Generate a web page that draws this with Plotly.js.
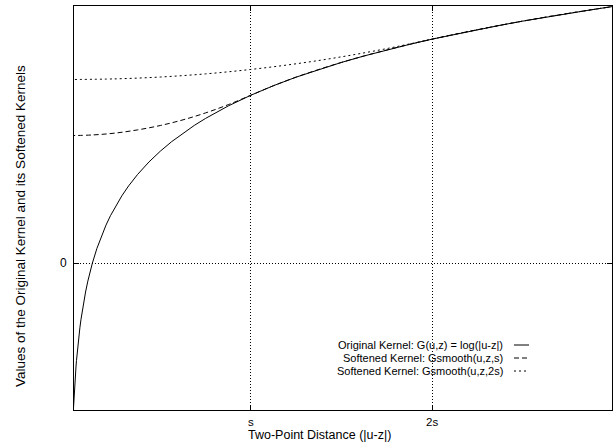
<!DOCTYPE html>
<html>
<head>
<meta charset="utf-8">
<script src="https://cdn.plot.ly/plotly-3.0.1.min.js"></script>
<style>html,body{margin:0;padding:0;background:#fff;}#chart{width:614px;height:443px;}</style>
</head>
<body>
<div id="chart"></div>
<script>
// distance values (s = 8 units)
const xOrig = [0.162,0.17,0.18,0.19,0.2,0.22,0.25,0.28,0.3,0.35,0.4,0.45,0.5,0.6,0.7,0.8,0.9,1,1.2,1.4,1.6,1.8,2,2.3,2.6,3,3.5,4,4.5,5,5.5,6,7,8,9,10,11,12,13,14,15,16,17,18,19,20,21,22,23,24];
const yOrig = [-1.820,-1.772,-1.715,-1.661,-1.609,-1.514,-1.386,-1.273,-1.204,-1.050,-0.916,-0.799,-0.693,-0.511,-0.357,-0.223,-0.105,0,0.182,0.336,0.470,0.588,0.693,0.833,0.956,1.099,1.253,1.386,1.504,1.609,1.705,1.792,1.946,2.079,2.197,2.303,2.398,2.485,2.565,2.639,2.708,2.773,2.833,2.890,2.944,2.996,3.045,3.091,3.135,3.178];

const xSoftS = [0,1,2,3,4,5,6,7,8,9,10,11,12,13,14,15,16,17,18,19,20,21,22,23,24];
const ySoftS = [1.579,1.587,1.610,1.650,1.704,1.774,1.860,1.962,2.079,2.197,2.303,2.398,2.485,2.565,2.639,2.708,2.773,2.833,2.890,2.944,2.996,3.045,3.091,3.135,3.178];

const xSoft2S = [0,2,4,6,8,10,12,14,16,17,18,19,20,21,22,23,24];
const ySoft2S = [2.273,2.281,2.304,2.343,2.398,2.468,2.554,2.656,2.773,2.833,2.890,2.944,2.996,3.045,3.091,3.135,3.178];

const xTickVals = [8,16];
const xTickText = ['s','2s'];
const yTickVals = [0];
const yTickText = ['0'];

const seriesNames = [
  'Original Kernel: G(u,z) = log(|u-z|)',
  'Softened Kernel: Gsmooth(u,z,s)',
  'Softened Kernel: Gsmooth(u,z,2s)'
];
const dashes = ['solid','5px,3px','2px,3px'];

const W = 614, H = 443;
const M = {l:74, r:2, t:6, b:33};
const PW = W - M.l - M.r, PH = H - M.t - M.b;
const px = x => (x - M.l) / PW;
const py = y => (H - M.b - y) / PH;

const FONT = 'Liberation Sans, Arial, Helvetica, sans-serif';

const traces = [
  {x:xOrig, y:yOrig, mode:'lines', name:seriesNames[0], line:{color:'#000', width:1, dash:dashes[0]}},
  {x:xSoftS, y:ySoftS, mode:'lines', name:seriesNames[1], line:{color:'#000', width:1, dash:dashes[1], shape:'spline'}},
  {x:xSoft2S, y:ySoft2S, mode:'lines', name:seriesNames[2], line:{color:'#000', width:1, dash:dashes[2], shape:'spline'}}
];

const legendY = [345, 358, 371];
const annotations = seriesNames.map((t,i) => ({
  xref:'paper', yref:'paper', x:px(505), y:py(legendY[i]), xanchor:'right', yanchor:'middle',
  text:t, showarrow:false, font:{family:FONT, size:11, color:'#000'}
}));
annotations.push({xref:'paper', yref:'paper', x:px(319), y:py(435), xanchor:'center', yanchor:'middle',
  text:'Two-Point Distance (|u-z|)', showarrow:false, font:{family:FONT, size:12.5, color:'#000'}});
annotations.push({xref:'paper', yref:'paper', x:px(20), y:py(226), xanchor:'center', yanchor:'middle', textangle:-90,
  text:'Values of the Original Kernel and its Softened Kernels', showarrow:false, font:{family:FONT, size:13.5, color:'#000'}});

const shapes = seriesNames.map((t,i) => ({
  type:'line', xref:'paper', yref:'paper', x0:px(514), x1:px(529), y0:py(legendY[i]), y1:py(legendY[i]),
  line:{color:'#000', width:1, dash:dashes[i]}
}));

const layout = {
  width:W, height:H, margin:M, showlegend:false,
  paper_bgcolor:'#fff', plot_bgcolor:'#fff',
  font:{family:FONT, size:11, color:'#000'},
  xaxis:{range:[0.19,23.94], tickvals:xTickVals, ticktext:xTickText, showgrid:true, gridcolor:'#000', griddash:'1px,2px', gridwidth:1,
    zeroline:false, showline:true, mirror:'ticks', linecolor:'#000', linewidth:1, ticks:'inside', ticklen:5, tickcolor:'#000',
    tickfont:{family:FONT, size:11.5, color:'#000'}, ticklabelstandoff:1},
  yaxis:{range:[-1.817,3.183], tickvals:yTickVals, ticktext:yTickText, showgrid:true, gridcolor:'#000', griddash:'1px,2px', gridwidth:1,
    zeroline:false, showline:true, mirror:'ticks', linecolor:'#000', linewidth:1, ticks:'inside', ticklen:5, tickcolor:'#000',
    tickfont:{family:FONT, size:12, color:'#000'}, ticklabelstandoff:4},
  annotations:annotations, shapes:shapes
};

Plotly.newPlot('chart', traces, layout, {staticPlot:true, displayModeBar:false});
</script>
</body>
</html>
